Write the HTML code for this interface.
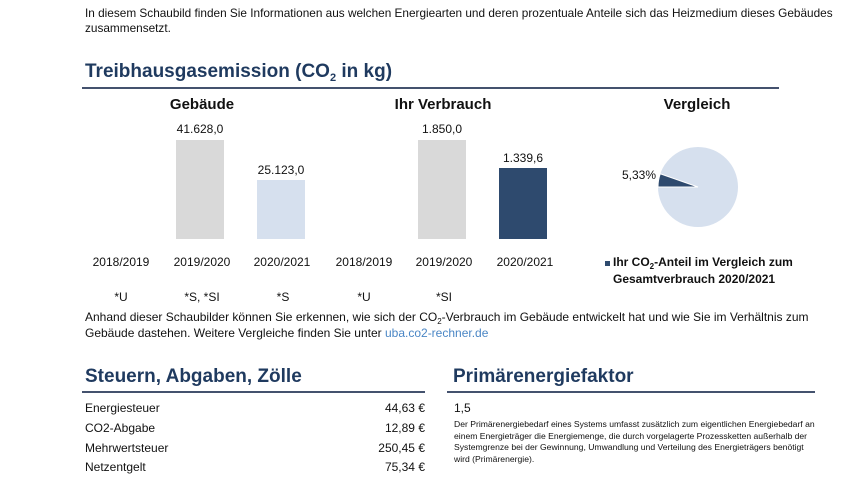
<!DOCTYPE html>
<html><head><meta charset="utf-8"><style>
body{margin:0;width:849px;height:480px;background:#fff;font-family:"Liberation Sans","DejaVu Sans",sans-serif;color:#111;position:relative;overflow:hidden}
.a{position:absolute;white-space:nowrap}
.h{font-weight:bold;color:#1f3a5f;font-size:19px}
.c{transform:translateX(-50%);text-align:center}
.t{font-size:12px}
.bt{font-size:15px;font-weight:bold}
.bar{position:absolute;width:48px}
.ln{position:absolute;height:2px;background:#44526e}
sub{vertical-align:baseline;position:relative;top:0.35em;line-height:0}
</style></head><body>
<div class="a" style="left:85px;top:6px;line-height:15px;font-size:11.8px">In diesem Schaubild finden Sie Informationen aus welchen Energiearten und deren prozentuale Anteile sich das Heizmedium dieses Gebäudes<br>zusammensetzt.</div>
<div class="a h" style="left:85px;top:61px">Treibhausgasemission (CO<sub style="font-size:11px">2</sub> in kg)</div>
<div class="ln" style="left:82px;top:87px;width:697px"></div>

<div class="a bt c" style="left:202px;top:96px">Gebäude</div>
<div class="a bt c" style="left:443px;top:96px">Ihr Verbrauch</div>
<div class="a bt c" style="left:697px;top:96px">Vergleich</div>

<div class="bar" style="left:176px;top:140px;height:99px;background:#d9d9d9"></div>
<div class="bar" style="left:257px;top:180px;height:59px;background:#d6e0ee"></div>
<div class="bar" style="left:418px;top:140px;height:99px;background:#d9d9d9"></div>
<div class="bar" style="left:499px;top:168px;height:71px;background:#2e4a6e"></div>
<div class="a t c" style="left:200px;top:122px">41.628,0</div>
<div class="a t c" style="left:281px;top:163px">25.123,0</div>
<div class="a t c" style="left:442px;top:122px">1.850,0</div>
<div class="a t c" style="left:523px;top:151px">1.339,6</div>

<div class="a t c" style="left:121px;top:255px">2018/2019</div>
<div class="a t c" style="left:202px;top:255px">2019/2020</div>
<div class="a t c" style="left:282px;top:255px">2020/2021</div>
<div class="a t c" style="left:364px;top:255px">2018/2019</div>
<div class="a t c" style="left:444px;top:255px">2019/2020</div>
<div class="a t c" style="left:525px;top:255px">2020/2021</div>

<div class="a t c" style="left:121px;top:290px">*U</div>
<div class="a t c" style="left:202px;top:290px">*S, *SI</div>
<div class="a t c" style="left:283px;top:290px">*S</div>
<div class="a t c" style="left:364px;top:290px">*U</div>
<div class="a t c" style="left:444px;top:290px">*SI</div>

<svg class="a" style="left:650px;top:140px" width="100" height="100">
<circle cx="48" cy="47" r="40" fill="#d6e0ee"/>
<path d="M48 47 L8 47 A40 40 0 0 1 10.2 33.8 Z" fill="#2e4a6e" stroke="#fff" stroke-width="1"/>
</svg>
<div class="a t" style="left:622px;top:168px">5,33%</div>
<div class="a" style="left:605px;top:261px;width:5px;height:5px;background:#2e4a6e"></div>
<div class="a t" style="left:613px;top:254px;font-weight:bold;line-height:17px">Ihr CO<sub style="font-size:8px">2</sub>-Anteil im Vergleich zum<br>Gesamtverbrauch 2020/2021</div>

<div class="a t" style="left:85px;top:309px;line-height:16px">Anhand dieser Schaubilder können Sie erkennen, wie sich der CO<sub style="font-size:8px">2</sub>-Verbrauch im Gebäude entwickelt hat und wie Sie im Verhältnis zum<br>Gebäude dastehen. Weitere Vergleiche finden Sie unter <span style="color:#4a86c5">uba.co2-rechner.de</span></div>

<div class="a h" style="left:85px;top:366px">Steuern, Abgaben, Zölle</div>
<div class="ln" style="left:82px;top:391px;width:343px"></div>
<div class="a h" style="left:453px;top:366px">Primärenergiefaktor</div>
<div class="ln" style="left:447px;top:391px;width:368px"></div>

<div class="a t" style="left:85px;top:401px">Energiesteuer</div><div class="a t" style="right:424px;top:401px">44,63 €</div>
<div class="a t" style="left:85px;top:421px">CO2-Abgabe</div><div class="a t" style="right:424px;top:421px">12,89 €</div>
<div class="a t" style="left:85px;top:441px">Mehrwertsteuer</div><div class="a t" style="right:424px;top:441px">250,45 €</div>
<div class="a t" style="left:85px;top:460px">Netzentgelt</div><div class="a t" style="right:424px;top:460px">75,34 €</div>

<div class="a t" style="left:454px;top:401px">1,5</div>
<div class="a" style="left:454px;top:419px;font-size:8.6px;line-height:11.5px">Der Primärenergiebedarf eines Systems umfasst zusätzlich zum eigentlichen Energiebedarf an<br>einem Energieträger die Energiemenge, die durch vorgelagerte Prozessketten außerhalb der<br>Systemgrenze bei der Gewinnung, Umwandlung und Verteilung des Energieträgers benötigt<br>wird (Primärenergie).</div>
</body></html>
